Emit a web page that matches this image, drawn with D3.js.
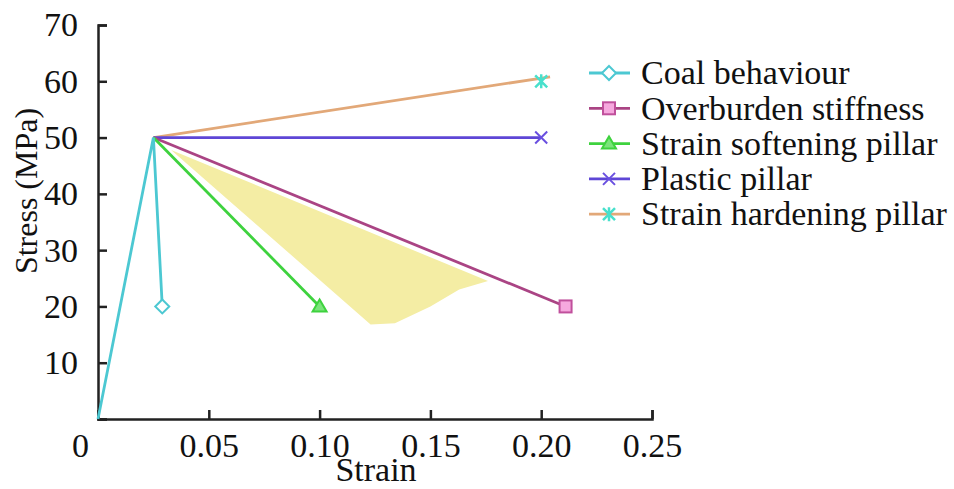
<!DOCTYPE html>
<html>
<head>
<meta charset="utf-8">
<script src="https://cdn.jsdelivr.net/npm/d3@7"></script>
<style>
  body { margin: 0; background: #fff; }
  text { font-family: "Liberation Serif", "Times New Roman", serif; fill: #111; }
</style>
</head>
<body>
<div id="chart"></div>
<script>
// series names (legend order)
var seriesNames = ["Coal behaviour", "Overburden stiffness", "Strain softening pillar", "Plastic pillar", "Strain hardening pillar"];

// line points of each series
var coalX = [0, 0.025, 0.029];
var coalY = [0, 50, 20];
var overburdenX = [0.025, 0.211];
var overburdenY = [50, 20];
var softeningX = [0.025, 0.10];
var softeningY = [50, 20];
var plasticX = [0.025, 0.20];
var plasticY = [50, 50];
var hardeningX = [0.025, 0.204];
var hardeningY = [50, 60.8];

// end markers of each series
var markerX = [0.029, 0.211, 0.10, 0.20, 0.20];
var markerY = [20, 20, 20, 50, 60];

// shaded yellow zone
var zoneX = [0.033, 0.176, 0.163, 0.150, 0.134, 0.123];
var zoneY = [47.8, 24.5, 23.0, 20.0, 17.0, 16.8];

// ticks
var xTicks = [0, 0.05, 0.10, 0.15, 0.20, 0.25];
var xTickLabels = ["0", "0.05", "0.10", "0.15", "0.20", "0.25"];
var yTicks = [0, 10, 20, 30, 40, 50, 60, 70];
var yTickLabels = ["", "10", "20", "30", "40", "50", "60", "70"];

var svgWidth = 954;
var svgHeight = 489;
var margin = { top: 25, right: 302, bottom: 70, left: 98 };
var chartWidth = svgWidth - margin.left - margin.right;
var chartHeight = svgHeight - margin.top - margin.bottom;

var lineColors = ["#4cc8d2", "#aa4484", "#3ed23e", "#5e46d6", "#e2a878"];
var markerStroke = ["#4cc8d2", "#c0509c", "#3ed23e", "#6a50e0", "#48e0cc"];
var markerFill = ["#ffffff", "#f6a8de", "#7ae47a", "none", "none"];
var markerShape = ["diamond", "square", "triangle", "x", "star"];

var svg = d3.select("#chart")
    .append("svg")
    .attr("width", svgWidth)
    .attr("height", svgHeight);

var chartGroup = svg.append("g")
    .attr("transform", `translate(${margin.left}, ${margin.top})`);

var xScale = d3.scaleLinear().domain([0, 0.25]).range([0, chartWidth]);
var yScale = d3.scaleLinear().domain([0, 70]).range([chartHeight, 0]);

// yellow zone
var zone = zoneX.map((x, i) => [xScale(x), yScale(zoneY[i])]);
chartGroup.append("path")
    .attr("d", "M" + zone.join("L") + "Z")
    .attr("fill", "#f4eda4");

// axes
var bottomAxis = d3.axisBottom(xScale)
    .tickValues(xTicks)
    .tickSize(-9)
    .tickPadding(14)
    .tickFormat((d, i) => xTickLabels[i]);
var leftAxis = d3.axisLeft(yScale)
    .tickValues(yTicks)
    .tickSize(-9)
    .tickPadding(20)
    .tickFormat((d, i) => yTickLabels[i]);

var gx = chartGroup.append("g")
    .attr("transform", `translate(0, ${chartHeight})`)
    .call(bottomAxis);
var gy = chartGroup.append("g").call(leftAxis);

[gx, gy].forEach(function(g) {
    g.select(".domain").attr("stroke", "#222").attr("stroke-width", 2.5);
    g.selectAll(".tick line").attr("stroke", "#222").attr("stroke-width", 2.5);
    g.selectAll(".tick text")
        .style("font-family", "Liberation Serif, serif")
        .style("font-size", "34px")
        .attr("fill", "#111");
});
gx.selectAll(".tick text").attr("dy", "0.72em");
gx.selectAll(".tick").filter(d => d === 0).select("text").attr("x", -18);
gx.selectAll(".tick").filter(d => d === 0).select("line").remove();

// series lines
var lineGen = d3.line().x(d => xScale(d[0])).y(d => yScale(d[1]));
var seriesPts = [
    coalX.map((x, i) => [x, coalY[i]]),
    overburdenX.map((x, i) => [x, overburdenY[i]]),
    softeningX.map((x, i) => [x, softeningY[i]]),
    plasticX.map((x, i) => [x, plasticY[i]]),
    hardeningX.map((x, i) => [x, hardeningY[i]])
];
// draw in back-to-front order similar to the picture
[4, 3, 1, 2, 0].forEach(function(i) {
    chartGroup.append("path")
        .attr("d", lineGen(seriesPts[i]))
        .attr("fill", "none")
        .attr("stroke", lineColors[i])
        .attr("stroke-width", 2.8);
});

function drawMarker(g, shape, cx, cy, i) {
    var s = 7;
    if (shape === "diamond") {
        g.append("path").attr("d", `M${cx},${cy - s}L${cx + s},${cy}L${cx},${cy + s}L${cx - s},${cy}Z`)
            .attr("fill", markerFill[i]).attr("stroke", markerStroke[i]).attr("stroke-width", 2);
    } else if (shape === "square") {
        g.append("rect").attr("x", cx - 6).attr("y", cy - 6).attr("width", 12).attr("height", 12)
            .attr("fill", markerFill[i]).attr("stroke", markerStroke[i]).attr("stroke-width", 2);
    } else if (shape === "triangle") {
        g.append("path").attr("d", `M${cx},${cy - 7}L${cx + 7},${cy + 5}L${cx - 7},${cy + 5}Z`)
            .attr("fill", markerFill[i]).attr("stroke", markerStroke[i]).attr("stroke-width", 2);
    } else if (shape === "x") {
        g.append("path").attr("d", `M${cx - 6},${cy - 6}L${cx + 6},${cy + 6}M${cx - 6},${cy + 6}L${cx + 6},${cy - 6}`)
            .attr("stroke", markerStroke[i]).attr("stroke-width", 2);
    } else {
        g.append("path").attr("d", `M${cx - 6},${cy - 6}L${cx + 6},${cy + 6}M${cx - 6},${cy + 6}L${cx + 6},${cy - 6}M${cx},${cy - 7}L${cx},${cy + 7}`)
            .attr("stroke", markerStroke[i]).attr("stroke-width", 2.5);
    }
}

markerX.forEach(function(x, i) {
    drawMarker(chartGroup, markerShape[i], xScale(x), yScale(markerY[i]), i);
});

// axis titles
svg.append("text")
    .attr("x", 376)
    .attr("y", 481)
    .attr("text-anchor", "middle")
    .style("font-size", "34px")
    .text("Strain");

svg.append("text")
    .attr("transform", "translate(37, 191) rotate(-90)")
    .attr("text-anchor", "middle")
    .style("font-size", "32px")
    .text("Stress (MPa)");

// legend
var legend = svg.append("g");
seriesNames.forEach(function(name, i) {
    var ly = 73 + i * 35.3;
    legend.append("line")
        .attr("x1", 589).attr("x2", 630)
        .attr("y1", ly).attr("y2", ly)
        .attr("stroke", lineColors[i])
        .attr("stroke-width", 2.8);
    drawMarker(legend, markerShape[i], 609, ly, i);
    legend.append("text")
        .attr("x", 641)
        .attr("y", ly)
        .attr("dy", "0.33em")
        .style("font-size", "34px")
        .text(name);
});
</script>
</body>
</html>
